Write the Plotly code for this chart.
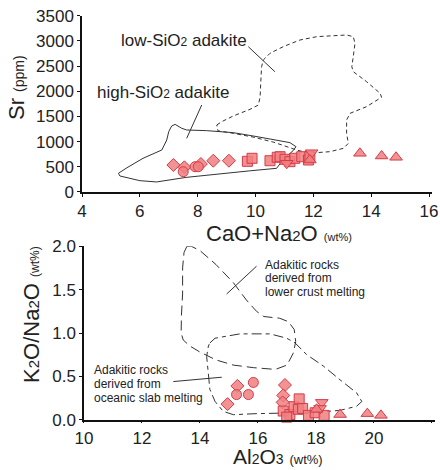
import plotly.graph_objects as go

# ---------------- data: top panel (CaO+Na2O vs Sr) ----------------
top_diamond_x = [7.16, 7.54, 8.11, 8.54, 9.08]
top_diamond_y = [536, 490, 556, 621, 621]
top_circle_x = [7.50, 7.91, 8.02]
top_circle_y = [403, 502, 502]
top_square_x = [9.72, 9.88, 10.50, 10.75, 10.85, 11.02, 11.19, 11.36, 11.60, 11.83, 11.88]
top_square_y = [609, 669, 621, 689, 701, 649, 602, 669, 701, 635, 701]
top_tdown_x = [11.08, 11.94]
top_tdown_y = [570, 780]
top_tup_x = [11.88, 13.61, 14.36, 14.86]
top_tup_y = [635, 768, 715, 689]

# high-SiO2 adakite field (solid)
high_si_x = [5.26, 5.55, 6.11, 6.76, 6.93, 7.0, 7.1, 7.22, 7.45, 7.62, 8.31, 9.23, 9.92,
             10.62, 11.19, 11.40, 11.30, 10.95, 10.73, 9.8, 8.8, 7.6, 6.58, 6.0, 5.31, 5.26]
high_si_y = [371, 480, 669, 834, 1032, 1200, 1310, 1343, 1264, 1231, 1218, 1178, 1112,
             1046, 980, 900, 820, 640, 470, 420, 360, 290, 199, 225, 318, 371]
# low-SiO2 adakite field (dashed)
low_si_x = [8.66, 8.83, 9.23, 9.81, 10.10, 10.16, 10.18, 10.21, 10.27, 10.50, 10.96, 11.54,
            12.12, 13.15, 13.38, 13.44, 13.38, 13.33, 13.38, 13.84, 14.31, 14.36, 13.84,
            13.27, 13.15, 13.15, 13.21, 13.04, 12.58, 12.12, 11.65, 11.42, 10.62, 9.92,
            9.23, 8.70, 8.66]
low_si_y = [1330, 1396, 1509, 1641, 1727, 1893, 2158, 2488, 2621, 2753, 2886, 3018,
            3084, 3117, 3084, 2952, 2687, 2488, 2389, 2191, 1959, 1880, 1694,
            1562, 1430, 1165, 966, 867, 801, 781, 801, 834, 990, 1090,
            1165, 1215, 1330]

# ---------------- data: bottom panel (Al2O3 vs K2O/Na2O) ----------------
bot_diamond_x = [14.95, 15.29, 16.93, 16.87, 16.85]
bot_diamond_y = [0.18, 0.39, 0.40, 0.28, 0.20]
bot_circle_x = [15.26, 15.67, 15.84]
bot_circle_y = [0.29, 0.29, 0.43]
bot_square_x = [16.87, 17.10, 17.24, 17.42, 17.39, 17.54, 17.74, 17.97, 18.28, 16.99]
bot_square_y = [0.10, 0.06, 0.15, 0.24, 0.12, 0.13, 0.05, 0.08, 0.05, 0.03]
bot_tdown_x = [18.20, 18.14]
bot_tdown_y = [0.20, 0.13]
bot_tup_x = [18.02, 18.83, 19.77, 20.24]
bot_tup_y = [0.12, 0.06, 0.07, 0.05]

# lower crust melting field
crust_x = [13.55, 13.45, 13.40, 13.40, 13.36, 13.35, 13.42, 13.65, 14.0, 14.55, 15.15, 15.85,
           16.6, 17.0, 17.22, 17.3, 17.25, 17.05, 16.75, 16.2, 15.95, 15.6, 15.15, 14.55,
           14.0, 13.7, 13.55]
crust_y = [2.0, 1.93, 1.75, 1.45, 1.2, 1.0, 0.92, 0.85, 0.78, 0.69, 0.63, 0.60,
           0.58, 0.63, 0.77, 0.9, 1.04, 1.13, 1.17, 1.19, 1.25, 1.38, 1.58, 1.79,
           1.95, 2.0, 2.0]
# oceanic slab melting field
slab_x = [14.34, 14.52, 15.38, 16.41, 16.99, 17.28, 17.68, 18.25, 18.83, 19.40, 19.58,
          19.40, 18.83, 18.02, 15.96, 15.15, 14.80, 14.52, 14.34, 14.29, 14.23, 14.29, 14.34]
slab_y = [0.885, 0.94, 0.99, 0.99, 0.94, 0.885, 0.75, 0.62, 0.46, 0.31, 0.21,
          0.155, 0.108, 0.085, 0.07, 0.058, 0.097, 0.21, 0.35, 0.54, 0.73, 0.85, 0.885]

# leader lines (data coordinates)
lead_low_x = [9.75, 10.67]
lead_low_y = [2885, 2388]
lead_high_x = [8.14, 7.62]
lead_high_y = [1727, 1066]
lead_crust_x = [14.92, 15.95]
lead_crust_y = [1.45, 1.77]
lead_slab_x = [13.08, 14.75]
lead_slab_y = [0.44, 0.49]

crust_label_lines = ["Adakitic rocks", "derived from", "lower crust melting"]
crust_label_y = [1.786, 1.630, 1.471]
slab_label_lines = ["Adakitic rocks", "derived from", "oceanic slab melting"]
slab_label_y = [0.573, 0.412, 0.253]

top_xticks = [4, 6, 8, 10, 12, 14, 16]
top_yticks = [0, 500, 1000, 1500, 2000, 2500, 3000, 3500]
bot_xticks = [10, 12, 14, 16, 18, 20, 22]
bot_yticks = [0.0, 0.5, 1.0, 1.5, 2.0]
bot_ytick_text = ["0.0", "0.5", "1.0", "1.5", "2.0"]

FONT = "Liberation Sans, Arial, sans-serif"
FILL = "rgba(240,128,128,0.85)"
EDGE = "#d63a48"
LINE = "#333333"
TXT = "#222222"

fig = go.Figure()


def add_pts(x, y, sym, size, xa, ya):
    fig.add_trace(go.Scatter(
        x=x, y=y, mode="markers", xaxis=xa, yaxis=ya, cliponaxis=False,
        marker=dict(symbol=sym, size=size, color=FILL, line=dict(color=EDGE, width=1)),
        showlegend=False, hoverinfo="skip"))


def add_line(x, y, dash, xa, ya, width=1):
    fig.add_trace(go.Scatter(
        x=x, y=y, mode="lines", xaxis=xa, yaxis=ya, cliponaxis=False,
        line=dict(color=LINE, width=width, dash=dash),
        showlegend=False, hoverinfo="skip"))


# top panel
add_line(high_si_x, high_si_y, "solid", "x", "y")
add_line(low_si_x, low_si_y, "4px,3px", "x", "y")
add_line(lead_low_x, lead_low_y, "solid", "x", "y")
add_line(lead_high_x, lead_high_y, "solid", "x", "y")
add_pts(top_diamond_x, top_diamond_y, "diamond", 10, "x", "y")
add_pts(top_circle_x, top_circle_y, "circle", 10, "x", "y")
add_pts(top_square_x, top_square_y, "square", 10, "x", "y")
add_pts(top_tdown_x, top_tdown_y, "triangle-down", 11, "x", "y")
add_pts(top_tup_x, top_tup_y, "triangle-up", 11, "x", "y")

# bottom panel
add_line(crust_x, crust_y, "10px,5px", "x2", "y2")
add_line(slab_x, slab_y, "10px,4px,4px,4px", "x2", "y2")
add_line(lead_crust_x, lead_crust_y, "solid", "x2", "y2")
add_line(lead_slab_x, lead_slab_y, "solid", "x2", "y2")
add_pts(bot_diamond_x, bot_diamond_y, "diamond", 10, "x2", "y2")
add_pts(bot_circle_x, bot_circle_y, "circle", 10, "x2", "y2")
add_pts(bot_square_x, bot_square_y, "square", 10, "x2", "y2")
add_pts(bot_tdown_x, bot_tdown_y, "triangle-down", 11, "x2", "y2")
add_pts(bot_tup_x, bot_tup_y, "triangle-up", 11, "x2", "y2")

axis_common = dict(showgrid=False, zeroline=False, showline=True, linecolor="#111",
                   linewidth=1.5, ticks="outside", tickwidth=1.2,
                   tickcolor="#111", tickfont=dict(family=FONT, size=17, color=TXT),
                   automargin=False)

fig.update_layout(
    width=440, height=470,
    margin=dict(l=0, r=0, t=0, b=0),
    paper_bgcolor="white", plot_bgcolor="white",
    font=dict(family=FONT, color=TXT),
    xaxis=dict(domain=[0.1864, 0.9816], range=[4, 16.1], tickvals=top_xticks,
               anchor="y", ticklen=3, **axis_common),
    yaxis=dict(domain=[0.5915, 0.9666], range=[0, 3500], tickvals=top_yticks,
               anchor="x", ticklen=3, **axis_common),
    xaxis2=dict(domain=[0.1909, 0.9884], range=[10, 22.1], tickvals=bot_xticks,
                anchor="y2", ticklen=2, **axis_common),
    yaxis2=dict(domain=[0.1070, 0.4760], range=[0, 2.0], tickvals=bot_yticks,
                ticktext=bot_ytick_text, anchor="x2", ticklen=3, **axis_common),
)


def sz(t, s):
    return "<span style='font-size:%dpx'>%s</span>" % (s, t)


TITLE_FONT = dict(size=22, family=FONT, color=TXT)
annos = [
    # axis titles (subscripts drawn small on the baseline, as in the reference)
    dict(text="CaO+Na" + sz("2", 15) + "O " + sz("(wt%)", 11), x=279 / 440, y=1 - 234 / 470,
         xref="paper", yref="paper", showarrow=False, font=TITLE_FONT,
         xanchor="center", yanchor="middle"),
    dict(text="Al" + sz("2", 14) + "O" + sz("3", 14) + " " + sz("(wt%)", 13),
         x=278 / 440, y=0.0,
         xref="paper", yref="paper", showarrow=False,
         font=dict(size=21, family=FONT, color=TXT),
         xanchor="center", yanchor="bottom"),
    dict(text="Sr " + sz("(ppm)", 14), x=16 / 440, y=1 - 88 / 470, textangle=-90,
         xref="paper", yref="paper", showarrow=False, font=TITLE_FONT,
         xanchor="center", yanchor="middle"),
    dict(text="K" + sz("2", 15) + "O/Na" + sz("2", 15) + "O " + sz("(wt%)", 12),
         x=31 / 440, y=1 - 315 / 470,
         textangle=-90, xref="paper", yref="paper", showarrow=False,
         font=TITLE_FONT, xanchor="center", yanchor="middle"),
    # field labels
    dict(text="low-SiO" + sz("2", 12) + " adakite", x=7.53, y=3000, xref="x", yref="y",
         showarrow=False, font=dict(size=17, family=FONT, color=TXT),
         xanchor="center", yanchor="middle"),
    dict(text="high-SiO" + sz("2", 12) + " adakite", x=6.81, y=1985, xref="x", yref="y",
         showarrow=False, font=dict(size=17, family=FONT, color=TXT),
         xanchor="center", yanchor="middle"),
]
for t, yy in zip(crust_label_lines, crust_label_y):
    annos.append(dict(text=t, x=16.17, y=yy, xref="x2", yref="y2", showarrow=False,
                      font=dict(size=12, family=FONT, color=TXT),
                      xanchor="left", yanchor="middle"))
for t, yy in zip(slab_label_lines, slab_label_y):
    annos.append(dict(text=t, x=10.27, y=yy, xref="x2", yref="y2", showarrow=False,
                      font=dict(size=12, family=FONT, color=TXT),
                      xanchor="left", yanchor="middle"))
fig.update_layout(annotations=annos)

fig.write_html("out.html")
